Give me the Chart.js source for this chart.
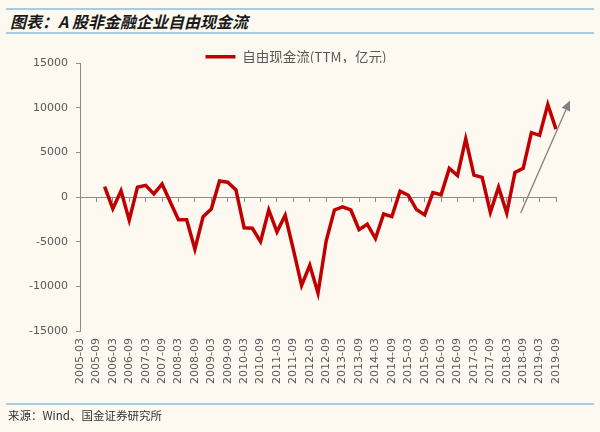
<!DOCTYPE html>
<html>
<head>
<meta charset="utf-8">
<script src="https://cdn.jsdelivr.net/npm/chart.js@4/dist/chart.umd.min.js"></script>
<style>
  html, body { margin: 0; padding: 0; background: #FDF9F0; }
  #wrap { position: relative; width: 600px; height: 432px; background: #FDF9F0; overflow: hidden; }
  #cv { position: absolute; left: 0; top: 0; }
  .rule { position: absolute; left: 6px; width: 588px; height: 2px; background: #A9CCE0; }
  #title { position: absolute; left: 10px; top: 10px; font-family: "Noto Sans CJK SC", sans-serif; font-weight: bold; font-style: italic; font-size: 16px; color: #1a1a1a; line-height: 22px; }
  #src { position: absolute; left: 8px; top: 407px; font-family: "Noto Sans CJK SC", sans-serif; font-size: 11.5px; color: #333; line-height: 16px; }
</style>
</head>
<body>
<div id="wrap">
  <div class="rule" style="top:8px"></div>
  <div id="title">图表：A 股非金融企业自由现金流</div>
  <div class="rule" style="top:32px"></div>
  <canvas id="cv" width="600" height="432"></canvas>
  <div class="rule" style="top:403px"></div>
  <div id="src">来源：Wind、国金证券研究所</div>
</div>
<script>
// Quarterly categories 2005-03 .. 2019-09
const quarters = [
  "2005-03","2005-06","2005-09","2005-12",
  "2006-03","2006-06","2006-09","2006-12",
  "2007-03","2007-06","2007-09","2007-12",
  "2008-03","2008-06","2008-09","2008-12",
  "2009-03","2009-06","2009-09","2009-12",
  "2010-03","2010-06","2010-09","2010-12",
  "2011-03","2011-06","2011-09","2011-12",
  "2012-03","2012-06","2012-09","2012-12",
  "2013-03","2013-06","2013-09","2013-12",
  "2014-03","2014-06","2014-09","2014-12",
  "2015-03","2015-06","2015-09","2015-12",
  "2016-03","2016-06","2016-09","2016-12",
  "2017-03","2017-06","2017-09","2017-12",
  "2018-03","2018-06","2018-09","2018-12",
  "2019-03","2019-06","2019-09"
];
// Free cash flow (TTM, 100 million CNY)
const freeCashFlow = [
  null, null, null, 1150,
  -1300, 700, -2600, 1100,
  1300, 350, 1450, -550,
  -2550, -2550, -5850, -2200,
  -1350, 1800, 1650, 800,
  -3450, -3500, -5000, -1450,
  -3900, -2050, -5900, -9900,
  -7650, -10750, -4900, -1450,
  -1100, -1450, -3650, -3050,
  -4650, -1900, -2200, 650,
  200, -1400, -2000, 500,
  250, 3200, 2400, 6500,
  2450, 2200, -1700, 1100,
  -1800, 2750, 3200, 7200,
  6900, 10350, 7600
];
const yTicks = [-15000, -10000, -5000, 0, 5000, 10000, 15000];
const seriesName = "自由现金流(TTM，亿元)";
// Trend arrow: [category index, value]
const arrowFrom = [53.7, -1780];
const arrowTo = [59.7, 10800];

Chart.defaults.font.family = "DejaVu Sans";
Chart.defaults.color = "#595959";

const axisGray = "#8C8C8C";

const arrowPlugin = {
  id: "trendArrow",
  afterDatasetsDraw(chart) {
    const x = chart.scales.x, y = chart.scales.y;
    const x1 = x.getPixelForValue(arrowFrom[0]), y1 = y.getPixelForValue(arrowFrom[1]);
    const x2 = x.getPixelForValue(arrowTo[0]), y2 = y.getPixelForValue(arrowTo[1]);
    const ctx = chart.ctx;
    const ang = Math.atan2(y2 - y1, x2 - x1);
    const head = 10, hw = 4.5;
    const bx = x2 - head * Math.cos(ang), by = y2 - head * Math.sin(ang);
    ctx.save();
    ctx.strokeStyle = "#7F7F7F";
    ctx.fillStyle = "#7F7F7F";
    ctx.lineWidth = 1.3;
    ctx.beginPath();
    ctx.moveTo(x1, y1);
    ctx.lineTo(bx, by);
    ctx.stroke();
    ctx.beginPath();
    ctx.moveTo(x2, y2);
    ctx.lineTo(bx + hw * Math.sin(ang), by - hw * Math.cos(ang));
    ctx.lineTo(bx - hw * Math.sin(ang), by + hw * Math.cos(ang));
    ctx.closePath();
    ctx.fill();
    ctx.restore();
  }
};

new Chart(document.getElementById("cv"), {
  type: "line",
  data: {
    labels: quarters,
    datasets: [{
      label: seriesName,
      data: freeCashFlow,
      borderColor: "#C00000",
      backgroundColor: "#C00000",
      borderWidth: 3.5,
      pointRadius: 0,
      tension: 0,
      borderJoinStyle: "miter",
      xAxisID: "x",
      yAxisID: "y"
    }]
  },
  options: {
    responsive: false,
    animation: false,
    devicePixelRatio: 1,
    layout: { padding: { top: 50, right: 8, bottom: 41, left: 0 } },
    plugins: {
      legend: {
        display: true,
        position: "top",
        maxHeight: 13,
        labels: {
          usePointStyle: true,
          pointStyle: "line",
          pointStyleWidth: 30,
          boxHeight: 12,
          padding: 0,
          color: "#595959",
          font: { family: "Noto Sans CJK SC", size: 13.5 }
        }
      },
      tooltip: { enabled: false }
    },
    scales: {
      x: {
        type: "category",
        position: "bottom",
        offset: false,
        grid: { display: false, drawTicks: false },
        border: { display: false },
        ticks: {
          autoSkip: false,
          minRotation: 90,
          maxRotation: 90,
          padding: 7,
          color: "#595959",
          font: { size: 11 },
          callback: (v, i) => (i % 2 === 0 ? quarters[i] : "")
        },
        afterFit: (s) => { s.height = 60; }
      },
      x2: {
        type: "category",
        position: { y: 0 },
        offset: false,
        ticks: { display: false, autoSkip: false },
        grid: {
          display: true,
          drawOnChartArea: false,
          drawTicks: true,
          tickLength: 4,
          tickWidth: 1,
          tickColor: (c) => (c.index % 2 === 0 ? axisGray : "rgba(0,0,0,0)")
        },
        border: { display: true, color: axisGray, width: 1 }
      },
      y: {
        type: "linear",
        position: "left",
        min: -15000,
        max: 15000,
        afterBuildTicks: (s) => { s.ticks = yTicks.map(v => ({ value: v })); },
        ticks: {
          padding: 8,
          color: "#595959",
          font: { size: 11 },
          callback: (v) => String(v)
        },
        grid: {
          display: true,
          drawOnChartArea: false,
          drawTicks: true,
          tickLength: 4,
          tickColor: axisGray
        },
        border: { display: true, color: axisGray, width: 1 },
        afterFit: (s) => { s.width = 80; }
      },
      yRightSpace: {
        type: "linear",
        position: "right",
        ticks: { display: false },
        grid: { display: false, drawTicks: false },
        border: { display: false },
        afterFit: (s) => { s.width = 36; }
      }
    }
  },
  plugins: [arrowPlugin]
});
</script>
</body>
</html>
